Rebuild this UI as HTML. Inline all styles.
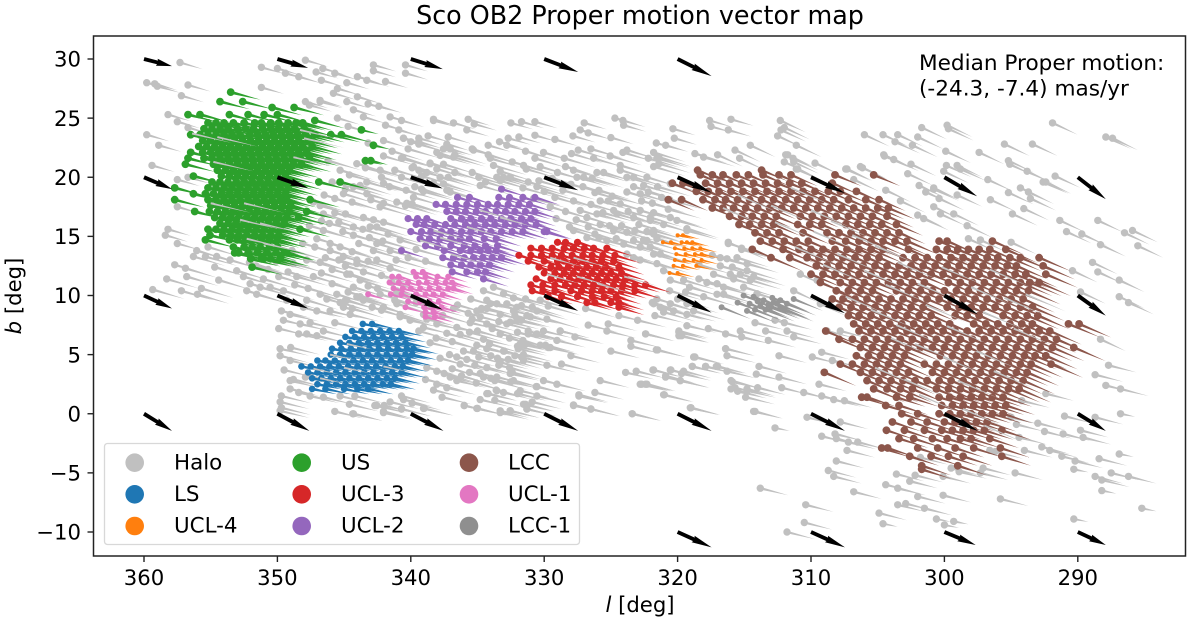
<!DOCTYPE html>
<html lang="en">
<head>
<meta charset="utf-8">
<title>Sco OB2 Proper motion vector map</title>
<style>
html,body{margin:0;padding:0;background:#fff;}
svg{display:block;filter:blur(0.3px);}
text{font-family:"DejaVu Sans","Liberation Sans",sans-serif;fill:#000;}
</style>
</head>
<body>
<svg id="chart" xmlns="http://www.w3.org/2000/svg" width="1200" height="622" viewBox="0 0 1200 622">
  <rect x="0" y="0" width="1200" height="622" fill="#fff"/>
  <text x="640" y="24" font-size="25.4" text-anchor="middle">Sco OB2 Proper motion vector map</text>
  <g id="stars"></g>
  <g id="reference-arrows"></g>
  <rect x="93.5" y="36" width="1092" height="520" fill="none" stroke="#222" stroke-width="1.5"/>
  <g id="ticks"></g>
  <text x="640" y="612" font-size="21.2" text-anchor="middle"><tspan font-style="italic">l</tspan> [deg]</text>
  <text transform="translate(21,296) rotate(-90)" font-size="21.2" text-anchor="middle"><tspan font-style="italic">b</tspan> [deg]</text>
  <text x="919" y="70" font-size="21.6">Median Proper motion:</text>
  <text x="919" y="95.5" font-size="21.6">(-24.3, -7.4) mas/yr</text>
  <g>
    <rect x="104.5" y="443.5" width="475" height="101" rx="3" fill="#fff" fill-opacity="0.9" stroke="#d8d8d8" stroke-width="1.3"/>
    <g><circle cx="134.7" cy="462.7" r="9.3" fill="#c0c0c0"/><text x="174" y="469.5" font-size="21.4">Halo</text></g>
    <g><circle cx="134.7" cy="494.3" r="9.3" fill="#1f77b4"/><text x="174" y="501" font-size="21.4">LS</text></g>
    <g><circle cx="134.7" cy="526" r="9.3" fill="#ff7f0e"/><text x="174" y="532.7" font-size="21.4">UCL-4</text></g>
    <g><circle cx="301.7" cy="462.7" r="9.3" fill="#2ca02c"/><text x="341" y="469.5" font-size="21.4">US</text></g>
    <g><circle cx="301.7" cy="494.3" r="9.3" fill="#d62728"/><text x="341" y="501" font-size="21.4">UCL-3</text></g>
    <g><circle cx="301.7" cy="526" r="9.3" fill="#9467bd"/><text x="341" y="532.7" font-size="21.4">UCL-2</text></g>
    <g><circle cx="469" cy="462.7" r="9.3" fill="#8c564b"/><text x="508" y="469.5" font-size="21.4">LCC</text></g>
    <g><circle cx="469" cy="494.3" r="9.3" fill="#e377c2"/><text x="508" y="501" font-size="21.4">UCL-1</text></g>
    <g><circle cx="469" cy="526" r="9.3" fill="#8f8f8f"/><text x="508" y="532.7" font-size="21.4">LCC-1</text></g>
  </g>
</svg>
<script>
// ---- axis tick labels ----
const xTickValues = [360,350,340,330,320,310,300,290];
const yTickValues = [30,25,20,15,10,5,0,-5,-10];

// ---- reference (black) arrows: l, b, dl, db in degrees ----
const arrowL = [360,350,340,330,320, 360,350,340,330,320,310,300,290, 360,350,340,330,320,310,300,290, 360,350,340,330,320,310,300,290, 320,310,300,290];
const arrowB = [30,30,30,30,30, 20,20,20,20,20,20,20,20, 10,10,10,10,10,10,10,10, 0,0,0,0,0,0,0,0, -10,-10,-10,-10];
const arrowDL = [-2.1,-2.3,-2.4,-2.55,-2.55, -2.1,-2.3,-2.4,-2.55,-2.55,-2.55,-2.45,-2.1, -2.1,-2.3,-2.4,-2.55,-2.55,-2.55,-2.5,-2.1, -2.1,-2.4,-2.45,-2.55,-2.55,-2.55,-2.5,-2.1, -2.55,-2.55,-2.35,-2.1];
const arrowDB = [-0.6,-0.75,-0.85,-1.1,-1.45, -1.0,-0.9,-0.95,-1.1,-1.3,-1.35,-1.6,-1.85, -1.1,-1.1,-1.2,-1.3,-1.45,-1.5,-1.6,-1.7, -1.45,-1.45,-1.45,-1.45,-1.45,-1.45,-1.45,-1.45, -1.3,-1.3,-1.1,-1.1];

// ---- halo stars, flat l,b pairs, grouped by shared proper-motion vector ----
const haloTop = [357.3,29.7,347.9,29.9,351.2,29.3,350,29.2,349.4,28.8,348.4,28.5,347.1,28.9,346.6,29.2,345.7,28.8,346.7,28.2,359.8,28,359.2,27.9,359,27.7,356.7,27.8,357.2,26.9,351.2,27.6,342.8,29.5,342.8,29,340.4,29.5,340.4,28.8,344,28.5,344.8,28,343.3,28.2,341.9,28.1,345.8,27.1,345.5,27.5,344,26.8,344.8,26.4,346.8,26.4,347.6,26.1,347.9,26.4,346.8,26.5,344.3,25.7,343.55,25.1,343.2,26.2,342.4,26,341.55,25.1,340.7,24.8,338.3,24.8,345.5,25,344.7,24.3,341.9,24.4,340.9,24,340.55,23.3,342.05,23.1,343.2,22.9,339.4,23,358.2,25.3,357.5,24.7,356.7,24.2,359.8,23.6,358.9,22.7,359.4,21,357.5,19.8,356.7,20,357.5,17.5,358.2,15.6,358.4,15.1,357.5,14.4,338.3,24.9,336.8,24.6,335.7,24.9,335.25,24.5,332.5,24.6,331.7,24.7,330.7,24.7,327,24.6,324.7,25,324.1,24.8,324.05,24.4,317.6,24.8,317.5,24.3,316,24.9,335.8,24,338.7,23.5,340.55,23.3,339.4,23.3,340,23,337.2,23.4,337.3,22.8,337.55,22.4,337.05,22.4,335.3,22.3,335.4,22.4,334.2,22.7,333.35,23,332.7,23.3,331.9,23.4,332.8,22.7,330.7,23.55,329.2,23.2,327.85,23.5,327.3,24,326.7,23.75,325,23.35,320.35,24.1,320.25,23.3,321.6,22.9,320.9,22.7,316.2,24];

const haloCentre = [339.4,22.8,340.2,22.4,340.6,21.65,338.05,22.1,337.8,21.85,336.8,21.7,336.7,21.9,334.2,21.9,334.05,21.6,331.4,22.2,330.05,22.1,330.7,21.6,328.5,21.6,327.95,22,327.45,22.3,326.5,22.4,325.05,21.8,324.1,22.1,323.8,22.3,324.3,21,322.2,21.6,321.8,22.1,321.4,21.7,318.7,22,318.05,21.7,338.55,21.2,337.55,21.1,339.9,20.8,339.4,20.6,338.8,20.4,337.8,20,336.7,20.4,335.4,20.4,337.2,20,333.3,20.5,333.55,20,332.55,20,331.55,21,331.35,20.7,330.3,20.9,328.4,20.9,327.8,20.6,326.3,21.6,326.05,20.4,326.4,19.9,327.05,20,325.55,20.4,323.8,20,323.3,20,324.3,20.6,321.4,21.15,321.8,20.9,322.3,20,322.55,19.3,322.8,18.6,322.2,18.75,320.55,19.45,321.55,21.6,334.9,20,334.4,19.6,334.8,19.3,333.3,19.7,333.05,20,330.4,19.7,330.55,19.2,327.55,20,339.8,18.3,340.4,17.6,339.9,17.75,337.05,18.75,337.55,19.45,339.2,19,329.2,18.3,329.55,17.5,327.8,18,325.8,18,325.9,18.9,325.2,18,323.8,18.75,324.3,17.75,324.8,17.2,327.3,17.2,326.8,16.6,326.05,16.9,325.8,16,326.7,15.8,327.8,15.5,326.8,14.9,325.3,14.65,324.55,16.9,323.3,16.6,322.8,17.2,322.05,16.6,321.8,15.5,323.8,15.35,324.05,14.35,323.3,14.65,324.8,15.5,321.05,16,320.05,16.35,319.3,15.65,321.55,14.8,322.3,14.65,322.8,14.1,323.8,13.5,323.3,13.2,321.8,13.5,322.8,13,342.05,21.8,341.4,22.2,340.7,21.6,339.8,20.9,338.55,21.15,338.05,20.7,344.05,21.15,342.3,20.6,342.2,20,340.7,20,343.3,19.6,343.8,19.3,344.3,19.2,342.05,19.5,340.35,18.9,339.7,19.2,339.05,18.8,343.3,18.6,345.05,18.6,344.4,17.9,346.5,18.5,345.7,18.2,342.05,17.8,342.3,17.5,341.05,17.9,340.3,17.8,342.05,16.2,342.8,16.4,343.05,15.8,342.55,15.8,343.55,16.6,346.8,17.6,347.3,17.9,346.55,16.9,345.7,17,345.4,16.2,344.3,15.8,346.55,15.5,347.05,14.8,346.05,14.4,344.3,15.1,345.3,14.1,346.05,13.8,343.9,14.4,342.55,14.4,342.8,13.8,341.55,13.8,340.8,14.7,345.05,13.3,356.05,13.8,356.3,13.3,355.4,13.3,354.55,13.3,355.2,14.1,353.55,13,357.7,12.6,356.9,12.3,354.7,12.4,356.8,11.6,358.3,11.4,354.4,11.3,353.05,12.1,352.55,11.6,351.05,11.4,349.9,11.6,348.8,12.7,347.8,13,346.8,12.8,345.4,13,344.05,12.7,342.55,13,343.55,12,341.55,12.3,344.55,11.8,348.55,11.6,347.3,11.6,344.4,13.7,344.05,13,344.8,11.8,344.3,10.7,343.8,11.3,343.55,9.6,344.9,9.6,344.4,8.9,342.9,9,343.8,9.9,342.2,8.75,341.2,9.6,340.8,8.4,341.05,10.1,322.05,16.35,320.55,16.6,319.3,15.5,321.8,15.2,322.55,14.7,322.05,14.1,321.3,13.5,321.05,12.1,320.55,11.3,319.55,11.3,321.55,12.7,334.55,10.4,333.8,10.7,333.05,10.15,334.3,9.6,333.55,9.3,332.8,9.3,332.05,9,331.7,9.15,330.9,9,330.55,8.7,321.8,9.3,321.3,9,320.55,9.3,320.3,8.7,321.05,8.6,321.55,9.7,319.3,9.3,318.8,8.7,318.05,9.9,317.8,11.1,317.05,11,316.55,10.1,316.05,11.8,315.55,13.2,314.8,12.1,315.05,10.7,314.3,11.6,314.05,10.15,314.8,12.7,315.3,11.8,315.8,11.4,314.55,11.3,316.55,10.7,317.05,10.1,316.8,13.2,316.2,14.4,315.2,13.9,326.9,8.9,321.9,9.4,359.35,10.5,357.2,10.4,355.7,10.6,356,10.1,352.05,11,351.3,10.7,352.3,10.4,351.55,10.1,350.55,10.7,349.55,10.4,347.8,9.6,346.8,10.1,348.05,9,345.55,10.1,344.05,9.9,344.8,9.6,342.3,10.1,341.05,10.4,342.05,9,341.05,9.3];

const haloDense = [346.2,21.4,345.3,20.6,344.6,20.2,343.4,20.8,345.9,19.6,344.9,19,341.2,20.6,339.2,20.1,338.3,19.5,337.3,18.9,341.6,19.2,343,18.1,344.9,16.9,346.1,16.1,343.6,15.6,341.7,15.2,343.1,14.9,345.1,15.4,342.1,14.6,340.2,13.2,341.1,13,339.6,13.9,338.9,12.9,346.7,16.3,347.6,15.9,348.1,14.4,348.9,13.8,347.2,14.1,346.4,13.2,345.9,12.2,344.9,12.5,343.2,12.9,342.2,11.7,341.4,11.1,346.7,11.9,345.9,11,344.7,10.3,343.2,10.8,342.5,10.6,348.7,10.9,347.7,10.6,346.3,9.7,345.3,9.4,349.3,9.6,350.7,12.2,352.1,12.8,350.1,12.9,351.6,12.5,349.2,12,
333.8,21,332.4,21.3,331.2,19.6,329.4,19.9,329,20.4,328,19.4,327.1,19.2,326.2,18.7,328.6,18.9,331.6,19.1,330,18.8,330.8,18.2,328.4,17.1,329.1,16.5,327.6,16.4,328.1,15.8,326.2,15.2,325.1,15.9,324.2,15.9,322.9,16,322.3,15.4,323.2,15.5,324.6,14.8,325.9,14.9,324.9,18.4,323.3,19.2,322.7,18,321.9,17.8,321.2,18.3,321.5,19.2,320.7,17.3,320.6,18.1,321.8,17,323.7,17.1,325.6,17,326.5,17.7,
339.4,7,338.1,6.4,337.3,6.8,336.9,6.1,336.3,6.7,335.6,6.9,335,7,333.9,7.2,333.4,7.8,332.6,6.4,332,6.9,331.2,7,331.6,6.2,337.1,5,337.8,4.7,336.9,3.8,335.6,3.5,335.2,4.1,334.9,4.8,334,4.9,334.1,5.9,333.5,4.7,332.7,4.6,332.6,3.9,333.7,2.8,335.1,2.6,336.2,3.2,337.5,3.4,335.7,8.5,336.8,8.9,337.6,8.3,338.4,9,339.6,9.4,336.5,9.2,335.5,9.7,332.3,9.8,331.4,9.7,330.3,9.6,329.7,9.1,329.8,8,
320.6,10.4,319.4,10.3,320,9.7,319.1,10.7,318.4,11.4,317.3,11.8,316.8,12.5,318.4,12.6,315.9,12.4,316.3,13.1,317.4,13.4];

const haloLower = [349.7,8.7,349.05,8.4,349.55,7.9,349.9,7.2,348.3,7.6,348.4,6.75,347.55,7.7,345.7,7.7,347.05,6.6,347.8,6.75,346.55,7,346.05,8.7,345.05,9,344.55,8.4,347.05,8.7,349.8,5.5,349,5.6,349.8,4.9,349.05,4.5,349.5,3.7,347.55,3.2,347.9,3.1,349.05,2.8,348.8,2.9,349.7,1.5,349.8,1,349.7,0.5,349.8,0.25,349.05,2.1,348.4,1.8,347.55,1.5,346.55,1.4,345.7,0.2,345.3,1.5,344.3,0,344.2,1.5,342.7,0.7,342,0.7,342.05,0.1,340.7,1.5,340.7,0.4,339.05,0.45,340.55,1.2,337.65,1.4,336,0.7,335.05,0.45,333.3,0.1,332.55,0.25,331.3,0.4,331.4,0.8,334.8,1.2,333.55,1.95,333.05,1.8,330.55,2.3,334.3,1.7,327.4,1.5,327.8,0.7,338.8,8,339.05,7.3,338.05,7.6,338.55,6,336.55,7.3,335.55,7.7,334.7,8.9,334.05,9.3,333.3,8.4,332.3,8.7,334.55,6.3,335.05,5.8,335.3,5.3,336.05,5.3,336.55,4.8,336.3,4.2,334.3,5.5,335.8,4.6,333.3,6.75,332.8,7.6,334.3,7.6,332.05,7.9,331.05,8.2,330.05,7,329.05,6.2,328.8,7,330.55,6.75,331.8,5.9,331.95,5.5,331.55,5,333.05,5.3,333.3,4.35,331.55,4.5,330.3,5.8,329.55,5.6,328.7,4.2,338.8,3.9,338.05,3.6,337.05,3.1,337.3,2.2,336.55,2.8,338.05,2.5,338.3,2,338.9,2.9,334.55,3.1,333.55,3.1,332.3,2.8,334.3,3.9,332.55,3.4,330.05,2.8,329.05,2.5,331.8,1.95,330.55,1.5,340.8,8.2,339.05,8.4,340.05,7.9,335.05,8.7,334.3,8.9,335.4,8,334.8,8.2,332.2,8.3,331.7,7.9,331.3,8.3,332.55,7.75,344.35,0,344.6,0.8,342.55,0.7,342.05,0.2,341.55,1,340.7,0.4,339.9,0.9,339,0.45,336,0.7,335,0.45,333.3,0.25,332.55,0.25,331.55,0.8,330.9,1,331.3,0.4,327.8,0.75,326.5,0.4,323.4,0,319,0.5,327.4,1.6,326.2,1.8,321,1.6,330.6,2.3,333.6,2,334.2,1.7,333.7,1.15,332,1.7,334.8,3.4,334,3,332.4,3.5,332.5,2.7,333.4,4.1,325.8,2.8,322.7,2.5,322.3,2.5,329.8,4.1,323.9,3.5,323.1,3.6,321.8,3.7,320.5,3.7,320.9,3.2,319.7,3.4,319.8,2.8,318.9,4,317.9,4,317,4,316.3,3.6,318.7,4.8,316.4,5.5,316.3,4.9,315.9,2.7,316,2.1,315.5,1.9,314.9,1.4,314.8,1.95,325,5.3,328,4.9,333,5.3,332.2,4.9,331.7,4.8,332,5.7,331.4,5.9,329.9,5.8,329.7,5.6,327.7,6.5,328.8,7,330.6,6.7,331.2,6.75,326.7,7.5,325.3,7,325.2,7.6,323.5,6.2,323.5,5.7,321.6,5.4,322.4,6.75,319.9,7,319.9,6.6,319.3,7.45,317.7,7.2,316.4,6.75,315.3,7,315.2,6.5,314.2,7.7,324.4,8.3,323,7.9,321.7,8.3,319.3,8.4];

const haloRight = [312.3,24.8,312,24.2,312.25,24,312.5,23.5,311.1,22.7,311.75,21.9,311.35,21.6,312,21.3,311.1,20.7,309.7,21.2,306,23.6,304.6,23.6,303.5,23.6,303.7,23,302.4,22.7,302,23.4,301.7,24.2,299.8,24.4,299.7,24.1,299.9,22.2,297.4,22.1,295.5,22.8,293.4,22.8,291.9,24.6,287.9,23.4,287.4,23.3,304.5,21.8,303.8,21.5,302.5,21.1,299.85,21,299.05,21,298.8,20.7,300.05,20.5,302.75,20.3,296.75,19.8,295.2,21.4,295.1,21.1,293.8,20.5,292.6,19.6,291.7,20.1,307.4,20.7,306.15,20.8,306.8,19.8,301.9,19.3,300.8,19.1,294.3,19.1,293.7,18.75,293.55,18.2,296.55,18.1,295.2,18.7,294.05,17.35,294.9,16.9,291.35,16.35,288.5,16.35,290.85,15.4,289.7,15.2,288.3,14.3,286.5,15.3,285.9,15.5,285.5,14.2,290.4,12.1,288.9,12.8,288.5,12,286.9,11.3,286.9,9.9,286.2,9.4,289.8,10.3,292.4,19.6,301.4,18.75,300.8,19,300.4,18.2,299.05,18.5,299.3,16.9,298.3,15.9,298.2,14.8,297.3,14.7,295,14.5,300.8,17.5,300.3,16.9,301.55,16.5,302,16.8,303.3,18,304.4,18.9,304.55,21.9,306.3,20.9,307.3,20.7,311.9,21.9,311.3,21.3,311,20.7,314.55,22.7,315.7,22.3,317,21.9,315.35,21.6,316.2,14.5,315.2,14,310.8,11.8,309.55,11.3,311.3,10.4,309.3,9.3,288.3,6.3];

const haloSouth = [322.4,6.75,321.5,5.4,319.9,6.9,319.7,6.6,313.4,7,312.7,7.9,312,7.7,313.2,6.2,311.8,7,311.3,6.5,308.8,7,307.8,7,309.2,5.2,309.9,4.8,308.4,4.5,316.4,5.5,318.8,4.8,318.9,4,317.9,4,317.1,4,313.9,4,314.1,3.35,312.4,4.9,312.4,3.1,314,2.2,312.2,2.2,316,2.8,315.7,2.2,314.8,2.1,310.55,1.8,309.4,2.5,309.2,1.5,308.3,1.2,307.5,1.1,321.05,1.6,319.05,0.5,314.2,0.2,321.85,3.7,320.55,3.7,319.8,2.8,320.9,3.1,319.55,3.6,322.8,2.5,322.4,2.5,287.7,4.1,288.7,3.3,287.9,2.4,286.8,2.1,292.4,1.7,294.2,1.1,326.5,0.4,323.4,0,319,0.5,314.3,0.2,310.3,-0.3,307.8,-0.7,309.2,-1.9,308.2,-1.7,308.1,-2.1,307.2,-2.4,306.5,-2.4,307.3,-3.1,308.1,-4,308.7,-4.8,308.3,-5.3,313.8,-6.3,310.4,-7.7,310.5,-9.2,311.8,-10,306.8,-6.6,304.4,-6,303.5,-6.3,303.5,-7.7,302.9,-7.6,301.5,-8,302,-7,300.1,-6.9,304.9,-8.4,303.6,-5.1,302.2,-5.2,302.6,-5.7,300.1,-5.3,299.5,-4.6,298.9,-4.9,297.1,-4.6,297.3,-5,294.7,-5,301.8,-3.7,296.6,-3.1,296.2,-3.2,294,-3.1,292.7,-2.8,292.1,-3.1,291.2,-3.6,290.2,-4,288.4,-3.8,288.7,-5.3,288.2,-5.6,287.5,-5,286.2,-5.3,295.8,-7.2,294.4,-2,295,-0.3,294.6,-0.9,293,-0.8,292.5,-1.5,291.1,-1.7,289.8,-1.4,289.6,-2,291,-0.2,288.7,-0.3];

const haloShort = [312.7,-1.2,304.6,-9.3,300.6,-8.9,300,-9.4,299.3,-9.1,290.3,-4.7,286.9,-3.4,288.2,-6.5,285.2,-8,290.3,-8.9,286.8,0];

// ---- halo tails seen over the clusters: flat l,b start pairs ----
const streaksLcc = [315.5,18.5,313,17.6,311.5,19.1,310,17.2,308.5,16.3,312.7,16.2,309.8,15.4,306.9,15.1,305.2,14.2,303.5,12.8,308,13.5,306,12.1,304.4,10.9,302,11,300.2,12.4,298,10.7,296.6,12.2,301.4,9.2,305.5,8.8,303.6,7.5,299.8,7.4,297.1,8.6,295.5,9.8,294.8,7.2,302.2,5.9,300.1,4.8,297.6,5.3,305.2,3.9,303,2.9,299,2.8,296.3,3.6,301.9,1.6,298.6,0.4,297,-1,304,6.4,307.4,9.9,293.9,10.1,309.1,12.6,311.2,14.1,316.6,17.4];
const streaksUs = [355,17.8,352.5,17.8,354.8,21.3,348.3,24,348,23.3,348.8,21.7,352.8,16.4,351.3,16.1,352.3,14.8,351,14.4,356.4,23.7,354.5,23.4];
const streaksLs = [346.05,5,345,3.9,347.3,3.8,342.05,4,344.8,5.9,346.8,3];
const streaksUcl3 = [329.55,13.2,329.8,11.8,327.55,11.6,324,11.6,326,11,327.8,13.2];
const streaksUcl2 = [334.8,17.2,338.3,15.5,335.8,15.8,337.8,14.9,333.3,16.6,339.3,14.65,337,13.5];

// ---- cluster members: rows of [b, [l, l, ...]] ----
const usRows = [
[27.2,[353.5]],[26.4,[354.3,352.6]],[25.9,[350.4,348.75]],[25.3,[356.7,355.8,353.6,352.2,351,350]],[24.8,[347.2]],
[24.6,[355.2,354.6,354,353.3,352.5,351.7,351.2,350.5,349.9,349.2,348.6,348.1]],
[24.1,[355.5,354.9,354.3,353.7,353,352.4,351.8,351.1,350.5,349.9,349.3,348.7,348]],
[23.6,[356.5,355.8,355.2,354.6,354,353.4,352.8,352.1,351.5,350.9,350.3,349.7,349.1,348.5,347.9,347.2,346,345.2]],
[23.1,[355.6,355,354.4,353.8,353.2,352.6,352,351.4,350.8,350.2,349.6,349,348.4,347.7]],
[22.6,[355.9,355.3,354.7,354.1,353.5,352.9,352.3,351.7,351.1,350.5,349.9,349.3,348.7,348.1,347.4]],
[22.1,[356.5,355.6,355,354.4,353.8,353.2,352.6,352,351.4,350.8,350.2,349.6,349,348.4,347.8]],
[21.6,[356.7,355.5,354.9,354.3,353.7,353.1,352.5,351.9,351.3,350.7,350.1,349.5,348.9,348.3,347.6]],
[21.1,[356.9,354.8,354.2,353.6,353,352.4,351.8,351.2,350.6,350,349.4,348.8,348.2]],
[20.6,[354.5,353.9,353.3,352.7,352.1,351.5,350.9,350.3,349.7,349.1]],
[20.1,[356.3,354.2,353.6,353,352.4,351.8,351.2,350.6,350,349.4]],
[19.6,[354.9,354.3,353.7,353.1,352.5,351.9,351.3,350.7,350.1,349.5,348.9,346.9,345.3]],
[19.1,[357.7,355.2,354.6,354,353.4,352.8,352.2,351.6,351,350.4,349.8,349.2]],
[18.6,[356.3,355.4,354.8,354.2,353.6,353,352.4,351.8,351.2,350.6,350,349.4]],
[18.1,[357.7,355.2,354.6,354,353.4,352.8,352.2,351.6,351,350.4,349.8,349.3,347.55]],
[17.6,[355,354.4,353.8,353.2,352.6,352,351.4,350.8,350.2,349.6,349]],
[17.1,[356.2,355.1,354.5,353.9,353.3,352.7,352.1,351.5,350.9,350.3,349.7,349.1,347.8]],
[16.6,[354.7,354.1,353.5,352.9,352.3,351.7,351.1,350.5,349.9,349.3,348.4]],
[16.1,[354.3,353.7,353.1,352.5,351.9,351.3,350.7,350.1,349.5]],
[15.6,[355.2,354.6,354,353.4,352.8,352.2,351.6,351,350.4,349.8,348.3]],
[15.1,[355.05,354.1,353.5,352.9,352.3,351.7,351.1,350.5,349.9]],
[14.7,[355.4,353.6,353,352.4,351.8,351.2,350.6,350]],
[14.1,[353.3,352.5,351.9,351.3,350.6,350]],
[13.6,[353.2,352.9,352.2,351.5,350.8,350.1,349.5,349.3]],
[13.1,[352,351.2,350.5,349.8,351.05]],
[12.4,[351.9]]];
const usOutlierRows = [[24,[343.7]],[22.7,[342.8]],[21.4,[343.4,343]]];

const lsRows = [
[7.6,[343.6,342.9]],[7,[344.4,343.7,343,342.3,341.6,340.9]],[6.5,[344.9,344.2,343.5,342.8,342.1,341.4,340.7]],
[6,[345.3,344.6,343.9,343.2,342.5,341.8,341.1,340.4]],[5.5,[345.9,345.2,344.5,343.8,343.1,342.4,341.7,341,340.3,339.8]],
[5,[346,345.3,344.6,343.9,343.2,342.5,341.8,341.1,340.4,339.9]],[4.5,[347,346.4,345.7,345,344.3,343.6,342.9,342.2,341.5,340.8,340.2]],
[4,[348.2,347.5,346.8,346.1,345.4,344.7,344,343.3,342.6,341.9,341.2,340.6]],[3.5,[347.7,347,346.3,345.6,344.9,344.2,343.5,342.8,342.1,341.4,340.7]],
[3,[347.4,346.7,346,345.3,344.6,343.9,343.2,342.5,341.8,341.2]],[2.5,[347,346.3,345.6,344.9,344.2,343.5,342.8,342.1,341.5]],
[2.1,[347.4,346.4,345,344,343.2]]];

const ucl2Rows = [
[19,[333.2]],[18.3,[336.5,335.6,333.4,332.6,331.6,330.7]],[17.7,[338.1,337.4,336.6,335.8,335,334.2,333.5,332.7,331.9,331.1]],
[17.1,[337.3,336.6,335.9,335.1,334.4,333.6,332.9,332.2,331.4,330.7]],[16.5,[340.2,339.5,338.8,337,336.2,335.5,334.7,334,333.2,332.5,331.7,331]],
[16,[339.6,339,338.2,337.4,336.7,335.9,335.2,334.4,333.7,332.9,332.2,331.4,330.6]],[15.4,[340,339.2,338.5,337.7,337,336.2,335.5,334.7,334,333.2,332.4,331.6,330,329.8]],
[14.8,[339.3,338.6,337.8,337,336.3,335.6,334.5,333.6]],[14.2,[338.9,338,337,336,335.2,334.4,333.5]],[13.8,[340.7,337.5,336.3,335.5,334.8,334.2,333.6]],
[13.2,[337.6,336.8,336,335.3,334.6,333.9,333.2]],[12.6,[337,336.2,335.5,334.8,334.1]],[12,[336.9,335.8,335,334.4]],[11.4,[334.55]]];

const ucl3Rows = [
[14.5,[329,328.4,327.5]],[14,[331,330.2,329.4,328.5,327.8,327,326.3,325.3]],[13.4,[331.9,331,330.2,329.4,328.7,327.9,327.1,326.4,325.6,324.7]],
[12.9,[331.2,330,329,328.5,327.8,327.1,326.4,325.7,324.8]],[12.4,[330.4,329.5,328.9,328.2,327.5,326.8,326.1,325.4,324.4]],
[11.9,[330,329.2,328.5,327.8,327.1,326.4,325.7,325,324.2]],[11.4,[330.6,329.5,328.8,328.1,327.4,326.7,326,325.3,324.6,323.9]],
[10.9,[331,330.1,329.2,328.4,327.7,327,326.3,325.6,324.8,324.1,323.2,322.4]],[10.4,[330.9,330.1,329.2,328,327.2,326.4,325.7,325,324.2,323.2]],
[9.9,[329.7,328.7,327.5,326.4,325.5,324.6]],[9.4,[326.8,326.2,325,324.4]],[9,[324.4]]];

const ucl1Rows = [
[12,[339.8,339.1]],[11.6,[341.4,340.9,339.6,338.9,338,337.2]],[11.1,[341.6,340.9,340.2,339.4,338.8,338.1,337.4,336.9]],
[10.6,[341.3,340.6,340,339.3,338.6,337.9,337.2,336.8]],[10.1,[343.2,341.5,340.7,339.6,338.9,338.3,337.6]],[9.5,[340.2,339.3,338.6,337.9]],
[9,[340.4,339,338.3,337.7]],[8.6,[338.9,338.3]],[8.2,[338.9,338.2]]];

const ucl4Rows = [
[15.1,[320,319.6]],[14.5,[321.1,320.5,319.7,319.3,318.9]],[14,[320.2,319.5,318.9,318.3]],[13.5,[320.1,319.4,318.7,318.2]],
[13,[320.2,319.5,318.8,318.2]],[12.5,[320.3,319.6,318.6]],[11.9,[320.6,320]]];

const lcc1Rows = [[10,[315.05]],[9.9,[314.3]],[9.8,[312.9]],[9.7,[311.3]],[9.6,[313.55,312.3]],[9.5,[314]],[9.4,[312.8,315.5]],[9.3,[312.55,314.6,311.8]],[9.2,[313.2]],[9.1,[313.8]],[9,[316.7,313,312.3]],[8.8,[313.4,314.2,312]],[8.7,[314.8]]];

const lccUpperRows = [
[20.6,[318.5,313.7]],[20.2,[318.3,317.4,316.6,315.6,314.7,313.6,312.4,311.5,308.2,305.3]],[19.5,[320.4,319.6,317.9,317,316.1,315.2,314.3,313.4,312.5,311.6,310.7,308.4]],
[18.8,[318.6,317.7,316.9,316,315.1,314.2,313.3,312.4,311.5,310.6,309.7,308.7,307.8,306.6]],[18.1,[320.7,319.7,318.1,317.2,316.4,315.5,314.6,313.7,312.8,311.9,311,310.1,309.2,308.3,307.2,305.9,304.9]],
[17.4,[317.4,316.6,315.8,314.9,314,313.1,312.2,311.3,310.4,309.5,308.6,307.7,306.8,305.9,305,304.2]],[16.7,[316.1,315.2,314.4,313.5,312.6,310.8,309.9,309,308.1,307.2,306.3,305.4,304.3]],
[16,[315.4,314.6,313.7,312.8,311,310.1,309.2,307.4,306.5,305.6,304.7,303.6]],[15.3,[314.2,313.3,312.4,310.6,308.8,307.9,307,306.1,305.2,304.3,303.4]]];

const lccMiddleRows = [
[14.6,[313.8,312.9,312,311.1,310.2,308.4,307.4,306.4,305.5,304.6,303.7,302.8,300.4,299.8,296.4]],[13.9,[314.4,312.1,310.9,310,309.1,308.2,307.3,306.4,305.5,304.6,302.7,300.6,299.8,299,298.2,297.4,296.6,295.4]],
[13.2,[313,311.6,310.3,309.4,308.5,307.6,306.7,305.8,304.9,303.1,302.2,301.3,300.4,299.5,298.6,297.7,296.8,296,295.1,294.3,292.9]],[12.5,[309.6,308.8,307.9,307,306.1,305.2,304.3,303.4,302.5,301.6,300.7,299.8,298.9,298,297.1,296.2,295.3,294.6,292.6]],
[11.8,[310,309.1,308.2,307.3,306.4,305.5,304.6,303.7,302.8,301.9,301,300.1,299.2,298.3,297.4,296.5,295.6,294.7,293.9,292.4]],[11.1,[309.3,307.8,306.9,306,305.1,304.2,303.3,302.4,301.5,299.7,298.8,297.9,297,296.1,295.2,294.3,293.6,292.9]],
[10.4,[308.1,307.2,306.3,305.4,303.6,302.7,301.8,300.9,300,299.1,298.2,297.3,296.4,295.5,294.6,293.7]],[9.7,[308.4,307.6,306.7,305.8,304.9,304,303.1,302.2,301.3,300.4,299.5,298.6,297.7,296.8,295.9,295,294.1]],
[9,[307.9,307,306.1,305.2,304.3,303.4,302.5,301.6,299.8,298.9,298,297.1,296.2,295.3,294.3,293.4]],[8.3,[307.2,306.4,305.5,304.6,303.7,302.8,301.9,301,299.2,298.3,297.4,295.6,294.7,293.8,293]],
[7.6,[306.8,305.9,305,304.1,303.2,302.3,301.4,300.5,299.6,297.8,296.9,296,295.1,294.2,293.4,290.7,289.9]],[7,[308.9,306.4,305.5,304.6,303.7,302.8,301.9,301,300.1,299.2,298.3,297.4,296.5,295.6,294.7,293.8,292.9,292.1]],
[6.3,[307.9,306.9,306,305.1,304.2,303.3,302.4,301.5,300.6,299.7,298.8,297.9,297,296.1,295.2,294.3,293.4,292.5,291.6]],[5.6,[306.3,305.4,304.5,303.6,302.7,301.8,300.9,300,299.1,298.2,297.3,296.4,295.5,294.6,293.7,292.8,291.9,290.3]],
[4.9,[306.6,305.7,304.8,303.9,303,300.3,299.4,298.5,297.6,296.7,295.8,294.9,294,293.2,292.4]],[4.2,[307.8,306.9,306,305.1,304.2,303.3,301.5,300.6,299.7,298.8,297.9,297,296.1,295.2,294.3,293.5,292]],
[3.5,[309,306.3,305.4,304.5,303.6,302.7,300.9,300,299.1,298.2,297.3,296.4,295.5,294.6,293.8]],[2.8,[305.8,304.9,304,303.1,302.2,301.3,300.4,299.5,298.6,297.7,296.8,295.9,295,294.1]],
[2.1,[305.3,304.3,303.3,302.4,300.6,299.7,298.8,297.9,297,296.1,295.2,294.4]]];

const lccLowerRows = [
[1.4,[306.2,305.8,303.6,302.6,300.4,299.6,298.8,298,297.2,296.4,295.6]],[0.7,[304.4,303.4,300.2,299.4,298.6,297.8,297,296.2,295.4]],[0,[303.2,302,300.4,299.6,298.8,298,297.2,296.4,295.6]],
[-0.7,[303.9,302.5,301.3,300,299.2,298.4,297.6,296.8]],[-1.4,[304.35,303,301.5,300.2,299.4,298.6,297.8,297,295.7]],[-2.1,[303.4,302.3,300.9,299.8,298.8,298,296.6]],
[-2.9,[304.7,304.25,302,300.5,299.2,297.8,295.8]],[-3.6,[302.6,301,299.7,298.6,295.7]],[-4.4,[301.7,299]],[-4.7,[301.7]]];

// ---- axis functions ----
function xScale(l){ return 144 + (360 - l) * 13.34; }
function yScale(b){ return 59 + (30 - b) * 11.825; }

const SVGNS = 'http://www.w3.org/2000/svg';
const starsLayer = document.getElementById('stars');
const arrowLayer = document.getElementById('reference-arrows');
const tickLayer = document.getElementById('ticks');

function wedgePoints(x1,y1,x2,y2,half){
  const dx = x2-x1, dy = y2-y1, len = Math.hypot(dx,dy) || 1;
  const nx = -dy/len*half, ny = dx/len*half;
  return (x1+nx).toFixed(1)+','+(y1+ny).toFixed(1)+' '+(x1-nx).toFixed(1)+','+(y1-ny).toFixed(1)+' '+x2.toFixed(1)+','+y2.toFixed(1);
}

function addTail(group, l, b, pmL, pmB, color, halfWidth, label){
  const tail = document.createElementNS(SVGNS,'polygon');
  
  
  tail.setAttribute('points', wedgePoints(xScale(l),yScale(b),xScale(l+pmL),yScale(b+pmB),halfWidth));
  tail.setAttribute('fill', color);
  group.appendChild(tail);
}

function addStar(group, l, b, pmL, pmB, color, radius, halfWidth, label){
  addTail(group, l, b, pmL, pmB, color, halfWidth, label);
  const dot = document.createElementNS(SVGNS,'circle');
  
  
  dot.setAttribute('cx', xScale(l).toFixed(1));
  dot.setAttribute('cy', yScale(b).toFixed(1));
  dot.setAttribute('r', radius);
  dot.setAttribute('fill', color);
  group.appendChild(dot);
}

function newGroup(label){
  const g = document.createElementNS(SVGNS,'g');
  
  
  starsLayer.appendChild(g);
  return g;
}

function drawPairs(pairs, pmL, pmB, label){
  const g = newGroup(label);
  for (let i = 0; i + 1 < pairs.length; i += 2) {
    addStar(g, pairs[i], pairs[i+1], pmL, pmB, '#c0c0c0', 3.7, 1.35, 'halo');
  }
}

function drawStreaks(pairs, pmL, pmB, label){
  const g = newGroup(label);
  for (let i = 0; i + 1 < pairs.length; i += 2) {
    addTail(g, pairs[i], pairs[i+1], pmL, pmB, '#c4c4c4', 1, label);
  }
}

function drawRows(rows, pmL, pmB, color, radius, halfWidth, label){
  const g = newGroup(label);
  rows.forEach(function(row){
    row[1].forEach(function(l){
      addStar(g, l, row[0], pmL, pmB, color, radius, halfWidth, label);
    });
  });
}

drawPairs(haloTop, -1.7, -0.55, 'halo-top');
drawPairs(haloCentre, -2.4, -0.8, 'halo-centre');
drawPairs(haloDense, -2.5, -0.8, 'halo-dense');
drawPairs(haloLower, -2.2, -0.6, 'halo-lower');
drawPairs(haloRight, -1.9, -1.0, 'halo-right');
drawPairs(haloSouth, -2.1, -0.6, 'halo-south');
drawPairs(haloShort, -1.1, -0.25, 'halo-short');

drawRows(lccUpperRows, -2.0, -0.95, '#8c564b', 3.9, 1.4, 'lcc-upper');
drawRows(lccMiddleRows, -2.4, -1.15, '#8c564b', 3.9, 1.4, 'lcc-middle');
drawRows(lccLowerRows, -2.2, -0.8, '#8c564b', 3.9, 1.4, 'lcc-lower');
drawRows(usRows, -2.25, -0.65, '#2ca02c', 3.9, 1.6, 'us');
drawRows(usOutlierRows, -1.3, -0.35, '#2ca02c', 3.9, 1.3, 'us-outlier');
drawRows(lsRows, -1.9, -0.45, '#1f77b4', 3.3, 1.5, 'ls');
drawRows(ucl2Rows, -1.9, -0.65, '#9467bd', 3.6, 1.4, 'ucl-2');
drawRows(ucl3Rows, -1.9, -0.65, '#d62728', 3.6, 1.5, 'ucl-3');
drawRows(ucl1Rows, -1.5, -0.5, '#e377c2', 3, 1.4, 'ucl-1');
drawRows(ucl4Rows, -1.3, -0.35, '#ff7f0e', 2, 1.1, 'ucl-4');
drawRows(lcc1Rows, -2.2, -1.0, '#969696', 3, 1.4, 'lcc-1');

drawStreaks(streaksLcc, -3, -1.45, 'halo-streak-lcc');
drawStreaks(streaksUs, -3, -0.8, 'halo-streak-us');
drawStreaks(streaksLs, -1.9, -0.45, 'halo-streak-ls');
drawStreaks(streaksUcl3, -2.5, -0.8, 'halo-streak-ucl-3');
drawStreaks(streaksUcl2, -2.5, -0.8, 'halo-streak-ucl-2');

// ---- reference arrows ----
arrowL.forEach(function(l, i){
  const x1 = xScale(l), y1 = yScale(arrowB[i]);
  const x2 = xScale(l + arrowDL[i]), y2 = yScale(arrowB[i] + arrowDB[i]);
  const dx = x2-x1, dy = y2-y1, len = Math.hypot(dx,dy);
  const ux = dx/len, uy = dy/len, nx = -uy, ny = ux;
  const neck = len*0.48;
  const pts = [
    [x1+nx*2,y1+ny*2],
    [x1+ux*neck+nx*1.9,y1+uy*neck+ny*1.9],
    [x1+ux*neck*0.95+nx*3.6,y1+uy*neck*0.95+ny*3.6],
    [x2,y2],
    [x1+ux*neck*0.95-nx*3.6,y1+uy*neck*0.95-ny*3.6],
    [x1+ux*neck-nx*1.9,y1+uy*neck-ny*1.9],
    [x1-nx*2,y1-ny*2]
  ];
  const arrow = document.createElementNS(SVGNS,'polygon');
  
  
  arrow.setAttribute('points', pts.map(function(p){ return p[0].toFixed(1)+','+p[1].toFixed(1); }).join(' '));
  arrow.setAttribute('fill', '#000');
  arrowLayer.appendChild(arrow);
});

// ---- ticks ----
xTickValues.forEach(function(v){
  const x = xScale(v);
  const mark = document.createElementNS(SVGNS,'line');
  
  
  mark.setAttribute('x1', x); mark.setAttribute('x2', x);
  mark.setAttribute('y1', 556); mark.setAttribute('y2', 562);
  mark.setAttribute('stroke', '#222'); mark.setAttribute('stroke-width', 1.4);
  tickLayer.appendChild(mark);
  const label = document.createElementNS(SVGNS,'text');
  
  
  label.setAttribute('x', x); label.setAttribute('y', 585);
  label.setAttribute('font-size', 21.2);
  label.setAttribute('text-anchor', 'middle');
  label.textContent = String(v);
  tickLayer.appendChild(label);
});
yTickValues.forEach(function(v){
  const y = yScale(v);
  const mark = document.createElementNS(SVGNS,'line');
  
  
  mark.setAttribute('x1', 87.5); mark.setAttribute('x2', 93.5);
  mark.setAttribute('y1', y); mark.setAttribute('y2', y);
  mark.setAttribute('stroke', '#222'); mark.setAttribute('stroke-width', 1.4);
  tickLayer.appendChild(mark);
  const label = document.createElementNS(SVGNS,'text');
  
  
  label.setAttribute('x', 81); label.setAttribute('y', y + 7.7);
  label.setAttribute('font-size', 21.2);
  label.setAttribute('text-anchor', 'end');
  label.textContent = String(v).replace('-', '\u2212');
  tickLayer.appendChild(label);
});
</script>
</body>
</html>
